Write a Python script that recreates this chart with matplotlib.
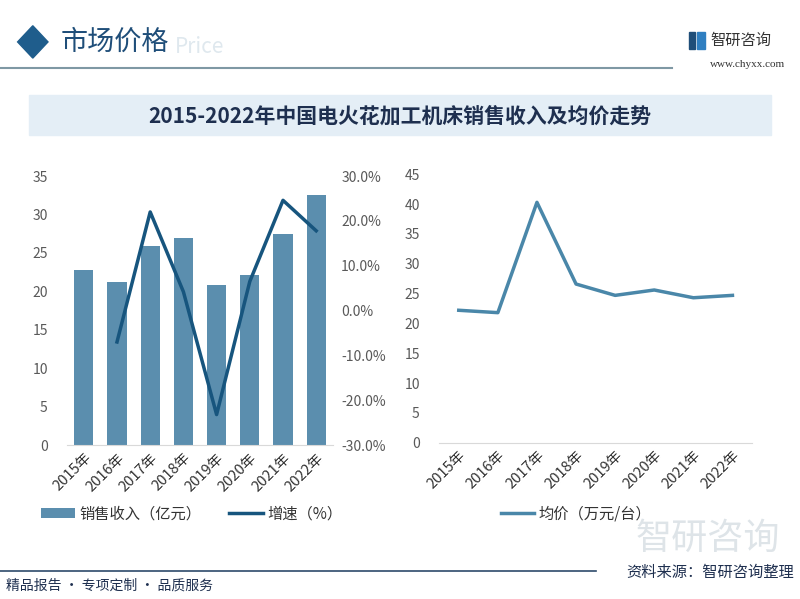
import matplotlib.pyplot as plt
from matplotlib.patches import Rectangle, Polygon
from matplotlib.ticker import FuncFormatter

plt.rcParams['font.family'] = ['Noto Sans CJK SC', 'DejaVu Sans']

# 数据
years = ["2015年", "2016年", "2017年", "2018年", "2019年", "2020年", "2021年", "2022年"]
revenue = [22.8, 21.2, 25.9, 27.0, 20.8, 22.1, 27.5, 32.5]       # 销售收入（亿元）
growth = [None, -7.0, 22.0, 4.2, -23.2, 6.5, 24.6, 17.8]          # 增速（%）
avg_price = [22.2, 21.8, 40.3, 26.6, 24.7, 25.6, 24.3, 24.7]      # 均价（万元/台）

bar_color = "#5b8eae"
growth_color = "#17557e"
price_color = "#4a87a9"
tick_color = "#595959"

fig = plt.figure(figsize=(8, 5.99), dpi=100)

# 头部
fig.patches.append(Polygon([[0.022, 0.930], [0.041, 0.957], [0.060, 0.930], [0.041, 0.903]],
                           closed=True, transform=fig.transFigure, color="#1f5d8c"))
fig.text(0.218, 0.922, "Price", fontsize=15, color="#dfe8ee", ha="left", va="center")
fig.text(0.076, 0.929, "市场价格", fontsize=19.5, color="#1f4e79", ha="left", va="center")
fig.add_artist(plt.Line2D([0.0, 0.84], [0.886, 0.886], transform=fig.transFigure, color="#7f98a4", lw=1.5))
fig.patches.append(Rectangle((0.861, 0.918), 0.008, 0.028, transform=fig.transFigure, color="#1f4e79"))
fig.patches.append(Rectangle((0.871, 0.918), 0.010, 0.028, transform=fig.transFigure, color="#2f7fc1"))
fig.text(0.888, 0.932, "智研咨询", fontsize=11, color="#333333", ha="left", va="center")
fig.text(0.982, 0.892, "www.chyxx.com", fontsize=8, color="#333333", ha="right", va="center",
         family=["Liberation Serif", "DejaVu Serif"])

# 标题横幅
fig.patches.append(Rectangle((0.036, 0.774), 0.928, 0.068, transform=fig.transFigure, color="#e4eef6"))
fig.text(0.5, 0.807, "2015-2022年中国电火花加工机床销售收入及均价走势", fontsize=15, fontweight="bold",
         color="#1e2f4f", ha="center", va="center")

x = list(range(len(years)))

# 左图：销售收入 + 增速
ax1 = fig.add_axes([0.084, 0.257, 0.332, 0.449])
bars = ax1.bar(x, revenue, width=0.58, color=bar_color, label="销售收入（亿元）")
ax1.set_ylim(0, 35)
ax1.set_yticks(range(0, 36, 5))
ax1.set_xlim(-0.5, len(years) - 0.5)
ax1.set_xticks(x)
ax1.set_xticklabels(years, rotation=45, ha="right", rotation_mode="anchor")
ax2 = ax1.twinx()
gx = [i for i, g in enumerate(growth) if g is not None]
gy = [g for g in growth if g is not None]
line1, = ax2.plot(gx, gy, color=growth_color, lw=2.5, label="增速（%）")
ax2.set_ylim(-30, 30)
ax2.set_yticks(range(-30, 31, 10))
ax2.yaxis.set_major_formatter(FuncFormatter(lambda v, p: "%.1f%%" % v))

# 右图：均价
ax3 = fig.add_axes([0.549, 0.261, 0.391, 0.448])
line2, = ax3.plot(x, avg_price, color=price_color, lw=2.5, label="均价（万元/台）")
ax3.set_ylim(0, 45)
ax3.set_yticks(range(0, 46, 5))
ax3.set_xlim(-0.5, len(years) - 0.5)
ax3.set_xticks(x)
ax3.set_xticklabels(years, rotation=45, ha="right", rotation_mode="anchor")

for ax in (ax1, ax2, ax3):
    for s in ax.spines.values():
        s.set_visible(False)
    ax.tick_params(length=0, labelsize=10, colors=tick_color, pad=6)
for ax in (ax1, ax3):
    ax.spines["bottom"].set_visible(True)
    ax.spines["bottom"].set_color("#d9d9d9")
    ax.tick_params(axis="x", pad=4, labelsize=10.5, labelcolor="#333333")
ax1.tick_params(axis="y", pad=14)
ax3.tick_params(axis="y", pad=14)

# 图例
fig.legend(handles=[bars, line1], loc="center", bbox_to_anchor=(0.24, 0.142), ncol=2, frameon=False,
           fontsize=11, handlelength=2.2, handletextpad=0.3, columnspacing=1.8, labelcolor="#333333")
fig.legend(handles=[line2], loc="center", bbox_to_anchor=(0.72, 0.142), frameon=False,
           fontsize=11, handlelength=2.2, handletextpad=0.3, labelcolor="#333333")

# 水印
fig.text(0.975, 0.10, "智研咨询", fontsize=26, color="#c8d2d9", alpha=0.6, ha="right", va="center")

# 底部
fig.add_artist(plt.Line2D([0.0, 0.745], [0.046, 0.046], transform=fig.transFigure, color="#2e4a6b", lw=1.2))
fig.text(0.993, 0.044, "资料来源：智研咨询整理", fontsize=11, color="#1e2f4f", ha="right", va="center")
fig.text(0.008, 0.022, "精品报告 · 专项定制 · 品质服务", fontsize=10, color="#1e2f4f", ha="left", va="center")

fig.savefig("out.png", dpi=100)
